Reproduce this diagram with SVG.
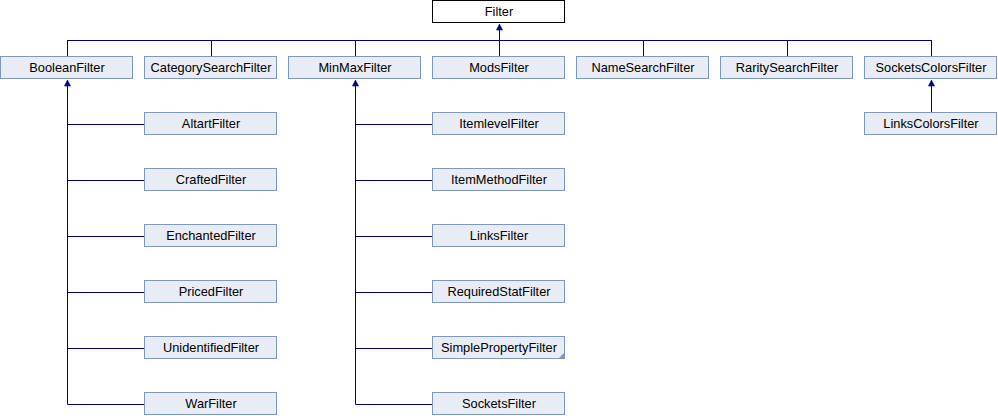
<svg xmlns="http://www.w3.org/2000/svg" width="998" height="416" viewBox="0 0 998 416">
<style>
.n rect{fill:#E8ECF5;stroke:#7E97C8;stroke-width:1}
.root rect{fill:#FFFFFF;stroke:#000000;stroke-width:1}
text{font-family:"Liberation Sans",Arial,sans-serif;font-size:12.8px;fill:#000000;text-anchor:middle}
.e line{stroke:#000080;stroke-width:1;fill:none}
.e polygon{fill:#000080;stroke:#000080;stroke-width:0.6}
</style>
<rect width="998" height="416" fill="#FFFFFF"/>
<g id="connectors" class="e">
<line x1="67.5" y1="40.5" x2="931.5" y2="40.5"/>
<line x1="499.5" y1="29" x2="499.5" y2="56"/>
<polygon points="499.5,24 496.5,30 502.5,30"/>
<line x1="67.5" y1="40" x2="67.5" y2="56"/>
<line x1="211.5" y1="40" x2="211.5" y2="56"/>
<line x1="355.5" y1="40" x2="355.5" y2="56"/>
<line x1="643.5" y1="40" x2="643.5" y2="56"/>
<line x1="787.5" y1="40" x2="787.5" y2="56"/>
<line x1="931.5" y1="40" x2="931.5" y2="56"/>
<polygon points="67.5,80 64.5,86 70.5,86"/>
<line x1="67.5" y1="85" x2="67.5" y2="404.5"/>
<line x1="67.5" y1="124.5" x2="144" y2="124.5"/>
<line x1="67.5" y1="180.5" x2="144" y2="180.5"/>
<line x1="67.5" y1="236.5" x2="144" y2="236.5"/>
<line x1="67.5" y1="292.5" x2="144" y2="292.5"/>
<line x1="67.5" y1="348.5" x2="144" y2="348.5"/>
<line x1="67.5" y1="404.5" x2="144" y2="404.5"/>
<polygon points="355.5,80 352.5,86 358.5,86"/>
<line x1="355.5" y1="85" x2="355.5" y2="404.5"/>
<line x1="355.5" y1="124.5" x2="432" y2="124.5"/>
<line x1="355.5" y1="180.5" x2="432" y2="180.5"/>
<line x1="355.5" y1="236.5" x2="432" y2="236.5"/>
<line x1="355.5" y1="292.5" x2="432" y2="292.5"/>
<line x1="355.5" y1="348.5" x2="432" y2="348.5"/>
<line x1="355.5" y1="404.5" x2="432" y2="404.5"/>
<polygon points="931.5,80 928.5,86 934.5,86"/>
<line x1="931.5" y1="85" x2="931.5" y2="112"/>
</g>
<g id="Filter" class="root"><rect x="432.5" y="0.5" width="132" height="22"/><text x="499" y="15.5">Filter</text></g>
<g id="BooleanFilter" class="n"><rect x="0.5" y="56.5" width="132" height="22"/><text x="67" y="71.5">BooleanFilter</text></g>
<g id="CategorySearchFilter" class="n"><rect x="144.5" y="56.5" width="132" height="22"/><text x="211" y="71.5">CategorySearchFilter</text></g>
<g id="MinMaxFilter" class="n"><rect x="288.5" y="56.5" width="132" height="22"/><text x="355" y="71.5">MinMaxFilter</text></g>
<g id="ModsFilter" class="n"><rect x="432.5" y="56.5" width="132" height="22"/><text x="499" y="71.5">ModsFilter</text></g>
<g id="NameSearchFilter" class="n"><rect x="576.5" y="56.5" width="132" height="22"/><text x="643" y="71.5">NameSearchFilter</text></g>
<g id="RaritySearchFilter" class="n"><rect x="720.5" y="56.5" width="132" height="22"/><text x="787" y="71.5">RaritySearchFilter</text></g>
<g id="SocketsColorsFilter" class="n"><rect x="864.5" y="56.5" width="132" height="22"/><text x="931" y="71.5">SocketsColorsFilter</text></g>
<g id="AltartFilter" class="n"><rect x="144.5" y="112.5" width="132" height="22"/><text x="211" y="127.5">AltartFilter</text></g>
<g id="CraftedFilter" class="n"><rect x="144.5" y="168.5" width="132" height="22"/><text x="211" y="183.5">CraftedFilter</text></g>
<g id="EnchantedFilter" class="n"><rect x="144.5" y="224.5" width="132" height="22"/><text x="211" y="239.5">EnchantedFilter</text></g>
<g id="PricedFilter" class="n"><rect x="144.5" y="280.5" width="132" height="22"/><text x="211" y="295.5">PricedFilter</text></g>
<g id="UnidentifiedFilter" class="n"><rect x="144.5" y="336.5" width="132" height="22"/><text x="211" y="351.5">UnidentifiedFilter</text></g>
<g id="WarFilter" class="n"><rect x="144.5" y="392.5" width="132" height="22"/><text x="211" y="407.5">WarFilter</text></g>
<g id="ItemlevelFilter" class="n"><rect x="432.5" y="112.5" width="132" height="22"/><text x="499" y="127.5">ItemlevelFilter</text></g>
<g id="ItemMethodFilter" class="n"><rect x="432.5" y="168.5" width="132" height="22"/><text x="499" y="183.5">ItemMethodFilter</text></g>
<g id="LinksFilter" class="n"><rect x="432.5" y="224.5" width="132" height="22"/><text x="499" y="239.5">LinksFilter</text></g>
<g id="RequiredStatFilter" class="n"><rect x="432.5" y="280.5" width="132" height="22"/><text x="499" y="295.5">RequiredStatFilter</text></g>
<g id="SimplePropertyFilter" class="n"><rect x="432.5" y="336.5" width="132" height="22"/><polygon points="558,359 565,359 565,352" fill="#7E97C8"/><text x="499" y="351.5">SimplePropertyFilter</text></g>
<g id="SocketsFilter" class="n"><rect x="432.5" y="392.5" width="132" height="22"/><text x="499" y="407.5">SocketsFilter</text></g>
<g id="LinksColorsFilter" class="n"><rect x="864.5" y="112.5" width="132" height="22"/><text x="931" y="127.5">LinksColorsFilter</text></g>
</svg>
